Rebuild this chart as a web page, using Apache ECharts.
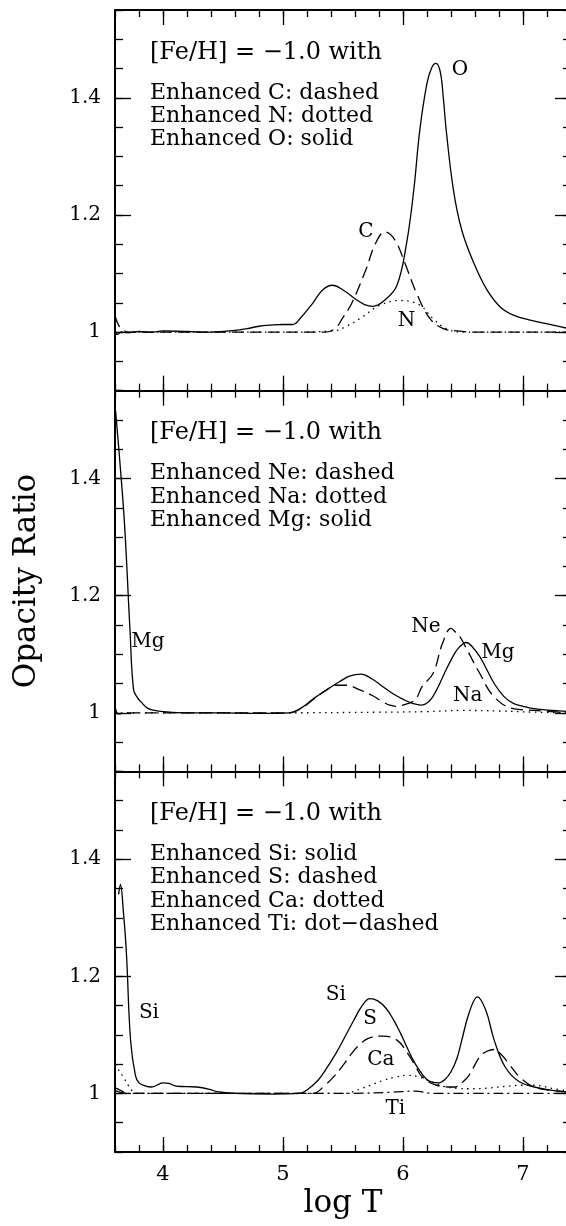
<!DOCTYPE html>
<html><head><meta charset="utf-8">
<script src="https://cdn.jsdelivr.net/npm/echarts@6/dist/echarts.min.js"></script>
<style>html,body{margin:0;padding:0;background:#fff}#c{width:566px;height:1226px}</style>
</head><body><div id="c"></div>
<script>
// ---------- DATA (log T vs opacity ratio) ----------
// Panel 1: C, N, O
const oT = [3.6,3.62,3.65,3.7,3.8,3.9,4.0,4.2,4.4,4.6,4.7,4.8,4.9,5.0,5.08,5.15,5.25,5.33,5.41,5.5,5.6,5.68,5.75,5.85,5.95,6.03,6.09,6.14,6.2,6.24,6.275,6.31,6.336,6.36,6.42,6.49,6.59,6.7,6.81,6.92,7.05,7.25,7.4];
const oV = [1.0,0.996,1.0,0.999,1.001,1.0,1.002,1.001,1.0,1.003,1.006,1.010,1.012,1.013,1.013,1.025,1.05,1.072,1.080,1.072,1.057,1.047,1.044,1.055,1.08,1.152,1.243,1.345,1.425,1.452,1.459,1.445,1.40,1.345,1.243,1.174,1.118,1.072,1.043,1.029,1.021,1.012,1.005];
const cT = [3.6,3.63,3.67,3.72,3.8,4.0,4.5,5.0,5.35,5.433,5.5,5.572,5.69,5.77,5.85,5.933,6.017,6.114,6.225,6.336,6.45,6.6,7.0,7.4];
const cV = [1.028,1.012,1.003,1.0,1.0,1.0,1.0,1.0,1.0,1.006,1.025,1.049,1.106,1.151,1.171,1.157,1.117,1.066,1.023,1.006,1.002,1.0,1.0,1.0];
const nT = [3.6,4.0,4.5,5.0,5.42,5.53,5.64,5.81,5.975,6.14,6.25,6.36,6.5,7.0,7.4];
const nV = [1.0,1.0,1.0,1.0,1.002,1.01,1.023,1.046,1.054,1.046,1.023,1.006,1.0,1.0,1.0];

// Panel 2: Ne, Na, Mg
const mgT = [3.605,3.64,3.68,3.725,3.755,3.79,3.815,3.87,3.93,4.0,4.2,4.5,4.8,5.05,5.15,5.26,5.37,5.47,5.56,5.65,5.74,5.83,5.92,6.01,6.08,6.15,6.22,6.28,6.34,6.40,6.46,6.53,6.58,6.64,6.70,6.76,6.84,6.92,7.0,7.09,7.25,7.4];
const mgV = [1.515,1.43,1.32,1.141,1.039,1.025,1.019,1.008,1.004,1.002,1.0,1.0,0.999,1.0,1.008,1.025,1.04,1.053,1.063,1.066,1.058,1.045,1.032,1.022,1.016,1.013,1.02,1.039,1.065,1.09,1.11,1.12,1.112,1.096,1.073,1.05,1.028,1.016,1.011,1.007,1.004,1.002];
const neT = [3.6,3.615,3.63,3.7,4.0,4.5,5.05,5.15,5.26,5.37,5.45,5.53,5.63,5.74,5.82,5.89,5.95,6.0,6.1,6.16,6.25,6.33,6.40,6.44,6.48,6.52,6.64,6.76,6.92,7.1,7.4];
const neV = [1.012,1.0,0.998,1.0,1.0,1.0,1.0,1.007,1.024,1.04,1.047,1.047,1.04,1.03,1.02,1.013,1.011,1.013,1.022,1.045,1.067,1.119,1.144,1.137,1.128,1.113,1.067,1.027,1.007,1.004,1.0];
const naT = [3.6,4.0,5.0,5.8,6.2,6.5,6.8,7.1,7.4];
const naV = [1.0,1.0,1.0,1.001,1.002,1.004,1.003,1.001,1.0];

// Panel 3: Si, S, Ca, Ti
const siT = [3.63,3.645,3.67,3.695,3.73,3.77,3.8,3.85,3.905,4.0,4.05,4.11,4.28,4.39,4.45,4.6,4.9,5.14,5.2,5.29,5.36,5.44,5.52,5.59,5.66,5.725,5.79,5.86,5.92,5.98,6.04,6.10,6.16,6.21,6.295,6.35,6.40,6.45,6.49,6.55,6.62,6.69,6.76,6.85,6.97,7.15,7.4];
const siV = [1.34,1.357,1.31,1.24,1.09,1.031,1.018,1.013,1.011,1.018,1.017,1.0126,1.011,1.007,1.003,1.0,0.999,1.0,1.006,1.022,1.042,1.068,1.098,1.125,1.15,1.162,1.158,1.145,1.126,1.1026,1.076,1.0514,1.033,1.022,1.018,1.024,1.037,1.06,1.091,1.137,1.165,1.142,1.091,1.0456,1.02,1.0087,1.002];
const sT = [3.6,3.65,3.7,4.0,4.5,5.0,5.25,5.35,5.42,5.5,5.56,5.62,5.71,5.83,5.95,6.04,6.10,6.16,6.28,6.43,6.5,6.55,6.64,6.70,6.76,6.82,6.88,6.97,7.09,7.25,7.4];
const sV = [1.005,1.002,1.0,1.0,1.0,1.0,1.0,1.014,1.028,1.048,1.065,1.0797,1.094,1.098,1.091,1.068,1.048,1.0285,1.014,1.011,1.02,1.031,1.0627,1.072,1.075,1.066,1.0514,1.0285,1.011,1.005,1.002];
const caT = [3.605,3.63,3.67,3.71,3.74,3.8,4.5,5.5,5.65,5.83,5.94,6.04,6.12,6.19,6.34,6.45,6.55,6.7,6.85,7.0,7.09,7.26,7.4];
const caV = [1.05,1.04,1.028,1.014,1.005,1.0,1.0,1.0,1.008,1.022,1.028,1.031,1.029,1.024,1.012,1.009,1.008,1.009,1.012,1.014,1.014,1.008,1.003];
const tiT = [3.6,3.65,3.7,4.0,4.5,5.0,5.5,5.9,6.1,6.25,6.6,7.0,7.4];
const tiV = [1.01,1.005,1.0,1.0,1.0,1.0,1.0,1.002,1.004,1.0,1.0,1.0,1.0];

// Tick labels
const xTickLabels = [4, 5, 6, 7];
const yTickLabels = [1, 1.2, 1.4];

// Curve annotations (text, log T, ratio)
const p1Ann = [['O', 6.475, 1.448], ['C', 5.69, 1.171], ['N', 6.03, 1.02]];
const p2Ann = [['Mg', 3.875, 1.122], ['Ne', 6.19, 1.147], ['Mg', 6.79, 1.102], ['Na', 6.54, 1.029]];
const p3Ann = [['Si', 3.883, 1.138], ['Si', 5.44, 1.168], ['S', 5.725, 1.128], ['Ca', 5.816, 1.058], ['Ti', 5.936, 0.973]];

// Panel legend texts
const p1Text = ['[Fe/H] = \u22121.0 with', 'Enhanced C: dashed', 'Enhanced N: dotted', 'Enhanced O: solid'];
const p2Text = ['[Fe/H] = \u22121.0 with', 'Enhanced Ne: dashed', 'Enhanced Na: dotted', 'Enhanced Mg: solid'];
const p3Text = ['[Fe/H] = \u22121.0 with', 'Enhanced Si: solid', 'Enhanced S: dashed', 'Enhanced Ca: dotted', 'Enhanced Ti: dot\u2212dashed'];

// ---------- LAYOUT / STYLE ----------
const FONT = 'DejaVu Serif';
const X_MIN = 3.6, X_MAX = 7.4, Y_MIN = 0.9, Y_MAX = 1.55;
const GRID_LEFT = 115, GRID_W = 456, GRID_TOP = 10, GRID_H = 380.67;
const DASH = {solid: 'solid', dashed: [12, 6], dotted: [1.5, 4.5], dotdash: [10, 4, 2, 4]};

const panels = [
  {series: [[oT, oV, 'solid'], [cT, cV, 'dashed'], [nT, nV, 'dotted']], ann: p1Ann, text: p1Text},
  {series: [[mgT, mgV, 'solid'], [neT, neV, 'dashed'], [naT, naV, 'dotted']], ann: p2Ann, text: p2Text},
  {series: [[siT, siV, 'solid'], [sT, sV, 'dashed'], [caT, caV, 'dotted'], [tiT, tiV, 'dotdash']], ann: p3Ann, text: p3Text}
];

const grids = [], xAxes = [], yAxes = [], series = [];
const lineCol = '#000';

function xAxis(g, pos, major, labels) {
  const a = {
    type: 'value', gridIndex: g, position: pos, min: X_MIN, max: X_MAX,
    axisLine: {show: !major, onZero: false, lineStyle: {color: lineCol, width: 2}},
    axisTick: {show: true, inside: true, length: major ? 15 : 7, lineStyle: {color: lineCol, width: 1.3}},
    axisLabel: {show: false},
    splitLine: {show: false}
  };
  if (major) {
    a.axisTick.customValues = xTickLabels;
  } else {
    a.interval = 0.2;
  }
  if (labels) {
    a.axisLabel = {show: true, customValues: xTickLabels, margin: 12, color: '#000',
      fontFamily: FONT, fontSize: 21, formatter: v => String(Math.round(v))};
  }
  return a;
}
function yAxis(g, pos, major, labels) {
  const a = {
    type: 'value', gridIndex: g, position: pos, min: Y_MIN, max: Y_MAX,
    axisLine: {show: !major, onZero: false, lineStyle: {color: lineCol, width: 2}},
    axisTick: {show: true, inside: true, length: major ? 16 : 8, lineStyle: {color: lineCol, width: 1.3}},
    axisLabel: {show: false},
    splitLine: {show: false}
  };
  if (major) {
    a.axisTick.customValues = yTickLabels;
  } else {
    a.interval = 0.05;
  }
  if (labels) {
    a.axisLabel = {show: true, customValues: yTickLabels, margin: 14, color: '#000',
      fontFamily: FONT, fontSize: 20,
      formatter: v => Math.abs(v - 1) < 1e-9 ? '1' : v.toFixed(1)};
  }
  return a;
}

panels.forEach((p, i) => {
  grids.push({left: GRID_LEFT, top: GRID_TOP + i * GRID_H, width: GRID_W, height: GRID_H,
    containLabel: false, outerBoundsMode: 'none', show: false});
  xAxes.push(xAxis(i, 'bottom', false, false));
  xAxes.push(xAxis(i, 'bottom', true, i === 2));
  xAxes.push(xAxis(i, 'top', false, false));
  xAxes.push(xAxis(i, 'top', true, false));
  yAxes.push(yAxis(i, 'left', false, false));
  yAxes.push(yAxis(i, 'left', true, true));
  yAxes.push(yAxis(i, 'right', false, false));
  yAxes.push(yAxis(i, 'right', true, false));
  p.series.forEach(s => {
    const [xs, ys, st] = s;
    series.push({
      type: 'line', xAxisIndex: 4 * i, yAxisIndex: 4 * i,
      data: xs.map((x, k) => [x, ys[k]]),
      showSymbol: false, symbol: 'none', smooth: 0.4,
      lineStyle: {color: '#000', width: 1.3, type: DASH[st]},
      silent: true, animation: false, clip: true
    });
  });
});

const chart = echarts.init(document.getElementById('c'), null, {renderer: 'canvas'});
chart.setOption({
  backgroundColor: '#fff', animation: false,
  grid: grids, xAxis: xAxes, yAxis: yAxes, series: series
});

// Texts
const graphics = [];
const TEXT_OFFS = [42.5, 83, 106.3, 129.6, 152.9];
panels.forEach((p, i) => {
  const top = GRID_TOP + i * GRID_H;
  p.text.forEach((t, k) => {
    graphics.push({type: 'text', x: 150, y: top + TEXT_OFFS[k], silent: true,
      style: {text: t, fill: '#000', font: (k === 0 ? '24px "' : '22px "') + FONT + '"', align: 'left', verticalAlign: 'middle'}});
  });
  p.ann.forEach(a => {
    const pt = chart.convertToPixel({xAxisIndex: 4 * i, yAxisIndex: 4 * i}, [a[1], a[2]]);
    graphics.push({type: 'text', x: pt[0], y: pt[1], silent: true,
      style: {text: a[0], fill: '#000', font: '20px "' + FONT + '"', align: 'center', verticalAlign: 'middle'}});
  });
});
graphics.push({type: 'text', x: 343, y: 1204, silent: true,
  style: {text: 'log T', fill: '#000', font: '31px "' + FONT + '"', align: 'center', verticalAlign: 'middle'}});
graphics.push({type: 'text', x: 27, y: 581, rotation: Math.PI / 2, silent: true,
  style: {text: 'Opacity Ratio', fill: '#000', font: '31px "' + FONT + '"', align: 'center', verticalAlign: 'middle'}});
chart.setOption({graphic: graphics});
</script></body></html>
